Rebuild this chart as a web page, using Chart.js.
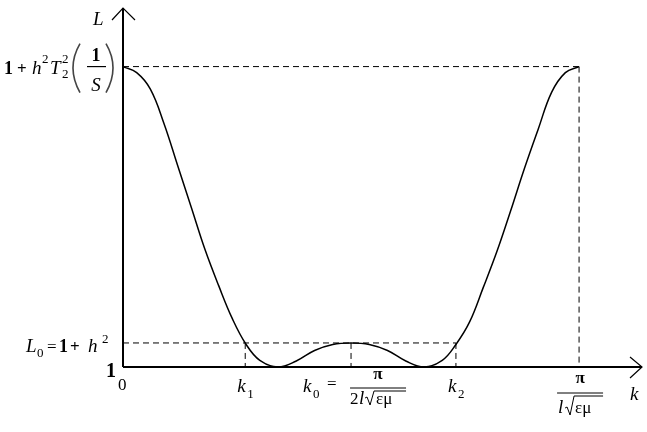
<!DOCTYPE html>
<html>
<head>
<meta charset="utf-8">
<script src="https://cdn.jsdelivr.net/npm/chart.js@4.4.1/dist/chart.umd.min.js"></script>
<style>
  body { margin: 0; background: #fff; }
  #wrap { width: 647px; height: 432px; }
</style>
</head>
<body>
<div id="wrap"><canvas id="chart"></canvas></div>
<script>
// curve L(k), k in units of pi/(l*sqrt(eps*mu))
var kValues = [0, 0.03, 0.06, 0.09, 0.12, 0.15, 0.18, 0.21, 0.24, 0.27, 0.30, 0.34, 0.38, 0.42, 0.46, 0.50,
               0.54, 0.58, 0.62, 0.66, 0.70, 0.73, 0.76, 0.79, 0.82, 0.85, 0.88, 0.91, 0.94, 0.97, 1.0];
var lValues = [2.0, 1.98, 1.925, 1.81, 1.67, 1.53, 1.39, 1.27, 1.16, 1.075, 1.022, 1.0, 1.02, 1.055, 1.075, 1.08,
               1.075, 1.055, 1.02, 1.0, 1.022, 1.075, 1.15, 1.265, 1.385, 1.52, 1.66, 1.79, 1.915, 1.98, 2.0];

// marked points on the axes
var markK = [0.268, 0.5, 0.73, 1.0];   // k1, k0, k2, pi/(l sqrt(eps mu))
var markL = [1.08, 2.0];               // L0, top value

var serif = '"Liberation Serif", "DejaVu Serif", serif';

function seg(x1, y1, x2, y2) {
	return {
		data: [{x: x1, y: y1}, {x: x2, y: y2}],
		borderColor: '#000',
		borderWidth: 1,
		borderDash: [6, 4],
		pointRadius: 0,
		tension: 0
	};
}

var curve = [];
for (var i = 0; i < kValues.length; i++) {
	curve.push({x: kValues[i], y: lValues[i]});
}

var datasets = [{
	data: curve,
	borderColor: '#000',
	borderWidth: 1.5,
	pointRadius: 0,
	tension: 0.4
}];
datasets.push(seg(0, markL[1], markK[3], markL[1]));
datasets.push(seg(markK[3], markL[1], markK[3], 1));
datasets.push(seg(0, markL[0], markK[2], markL[0]));
datasets.push(seg(markK[0], markL[0], markK[0], 1));
datasets.push(seg(markK[1], markL[0], markK[1], 1));
datasets.push(seg(markK[2], markL[0], markK[2], 1));

function txt(ctx, s, x, y, font, align) {
	ctx.font = font;
	ctx.textAlign = align || 'left';
	ctx.fillText(s, x, y);
}

function line(ctx, pts, w) {
	ctx.beginPath();
	ctx.lineWidth = w;
	ctx.moveTo(pts[0], pts[1]);
	for (var i = 2; i < pts.length; i += 2) ctx.lineTo(pts[i], pts[i + 1]);
	ctx.stroke();
}

// radical sign with overline, x = start of check mark
function radical(ctx, x, top, bottom, end) {
	line(ctx, [x, bottom - 7, x + 2, bottom - 8, x + 5, bottom, x + 9, top, end, top], 1);
}

var axesPlugin = {
	id: 'axesPlugin',
	afterDatasetsDraw: function(chart) {
		var ctx = chart.ctx;
		var a = chart.chartArea;
		var xs = chart.scales.x, ys = chart.scales.y;
		var x0 = xs.getPixelForValue(0), y0 = ys.getPixelForValue(1);
		ctx.save();
		ctx.strokeStyle = '#000';
		ctx.fillStyle = '#000';
		ctx.lineCap = 'butt';

		// axes + arrows
		line(ctx, [x0, y0, a.right, y0], 2);
		line(ctx, [x0, y0, x0, a.top], 2);
		line(ctx, [x0 - 11, a.top + 12, x0, a.top, x0 + 12, a.top + 12], 1.2);
		line(ctx, [a.right - 12, y0 - 10, a.right, y0, a.right - 12, y0 + 11], 1.2);

		ctx.textBaseline = 'alphabetic';
		var it18 = 'italic 19px ' + serif;
		var rg16 = '17px ' + serif;
		var bd17 = 'bold 18px ' + serif;
		var sm = '13px ' + serif;

		// axis names
		txt(ctx, 'L', 93, 25, it18);
		txt(ctx, 'k', a.right - 12, 400, it18);

		// top value: 1 + h^2 T_2^2 (1/S)
		var yt = ys.getPixelForValue(markL[1]);
		txt(ctx, '1', 4, yt + 7, bd17);
		txt(ctx, '+', 17, yt + 7, 'bold 17px ' + serif);
		txt(ctx, 'h', 32, yt + 7, it18);
		txt(ctx, '2', 42, yt - 4, sm);
		txt(ctx, 'T', 50, yt + 7, it18);
		txt(ctx, '2', 62, yt - 4, sm);
		txt(ctx, '2', 62, yt + 11, sm);
		ctx.strokeStyle = '#444';
		ctx.lineWidth = 1.6;
		ctx.beginPath();
		ctx.moveTo(80, yt - 23); ctx.quadraticCurveTo(66, yt + 1, 80, yt + 26);
		ctx.moveTo(106, yt - 23); ctx.quadraticCurveTo(120, yt + 1, 106, yt + 26);
		ctx.stroke();
		ctx.strokeStyle = '#000';
		txt(ctx, '1', 96, yt - 6, bd17, 'center');
		line(ctx, [87, yt, 106, yt], 1.2);
		txt(ctx, 'S', 96, yt + 24, it18, 'center');

		// L0 = 1 + h^2
		var yl = ys.getPixelForValue(markL[0]);
		txt(ctx, 'L', 26, yl + 9, it18);
		txt(ctx, '0', 37, yl + 14, sm);
		txt(ctx, '=', 47, yl + 9, rg16);
		txt(ctx, '1', 59, yl + 9, bd17);
		txt(ctx, '+', 70, yl + 9, 'bold 17px ' + serif);
		txt(ctx, 'h', 88, yl + 9, it18);
		txt(ctx, '2', 102, yl, sm);

		// origin
		txt(ctx, '1', 106, y0 + 10, 'bold 20px ' + serif);
		txt(ctx, '0', 118, y0 + 23, rg16);

		// k1
		var p1 = xs.getPixelForValue(markK[0]);
		txt(ctx, 'k', p1 - 8, y0 + 25, it18);
		txt(ctx, '1', p1 + 2, y0 + 31, sm);

		// k0 = pi / (2 l sqrt(eps mu))
		var p0 = xs.getPixelForValue(markK[1]);
		txt(ctx, 'k', p0 - 48, y0 + 25, it18);
		txt(ctx, '0', p0 - 38, y0 + 31, sm);
		txt(ctx, '=', p0 - 24, y0 + 22, rg16);
		txt(ctx, 'π', p0 + 27, y0 + 12, 'bold 17px ' + serif, 'center');
		line(ctx, [p0 - 1, y0 + 21, p0 + 55, y0 + 21], 1);
		txt(ctx, '2', p0 - 1, y0 + 37, rg16);
		txt(ctx, 'l', p0 + 8, y0 + 37, it18);
		radical(ctx, p0 + 14, y0 + 24, y0 + 38, p0 + 55);
		txt(ctx, 'εμ', p0 + 25, y0 + 37, rg16);

		// k2
		var p2 = xs.getPixelForValue(markK[2]);
		txt(ctx, 'k', p2 - 8, y0 + 25, it18);
		txt(ctx, '2', p2 + 2, y0 + 31, sm);

		// pi / (l sqrt(eps mu))
		var pe = xs.getPixelForValue(markK[3]);
		txt(ctx, 'π', pe + 1, y0 + 16, 'bold 17px ' + serif, 'center');
		line(ctx, [pe - 22, y0 + 26, pe + 24, y0 + 26], 1);
		txt(ctx, 'l', pe - 21, y0 + 46, it18);
		radical(ctx, pe - 14, y0 + 29, y0 + 48, pe + 24);
		txt(ctx, 'εμ', pe - 4, y0 + 46, rg16);

		ctx.restore();
	}
};

new Chart(document.getElementById('chart').getContext('2d'), {
	type: 'line',
	data: { datasets: datasets },
	options: {
		responsive: true,
		maintainAspectRatio: false,
		animation: false,
		layout: { padding: { left: 123, right: 5, top: 8, bottom: 65 } },
		plugins: { legend: { display: false }, tooltip: { enabled: false } },
		scales: {
			x: { type: 'linear', min: 0, max: 1.138, display: false },
			y: { type: 'linear', min: 1, max: 2.195, display: false }
		}
	},
	plugins: [axesPlugin]
});
</script>
</body>
</html>
